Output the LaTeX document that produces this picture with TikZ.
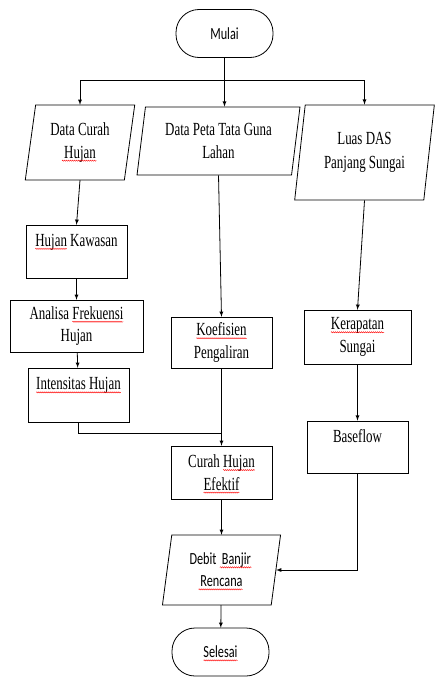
\documentclass[tikz,border=0pt]{standalone}
\usepackage{fontspec}
\setmainfont{Liberation Serif}[FakeStretch=0.7]
\newfontfamily\calib{Carlito}[FakeStretch=0.72]
\usetikzlibrary{shapes.geometric,decorations.pathmorphing}
\tikzset{>=latex}
\tikzset{
  box/.style = {draw, minimum width=101pt, minimum height=53pt, align=center, inner sep=1pt},
  io/.style = {draw, shape=trapezium, trapezium left angle=80, trapezium right angle=100,
    trapezium stretches=true, align=center, inner sep=0pt},
  term/.style = {draw, rounded corners=23pt, minimum width=97pt, minimum height=48pt,
    font=\calib\fontsize{17}{22}\selectfont},
  wave/.style = {red, line width=0.4pt, sharp corners, overlay, decorate,
    decoration={snake, amplitude=0.6pt, segment length=2pt}}
}
% red spell-check wave under a word
\newcommand{\typo}[1]{\tikz[baseline=(w.base)]{\node[draw=none,inner sep=0pt,outer sep=0pt,
  minimum size=0pt,sharp corners] (w) {#1};
  \draw[wave] ([yshift=-2.5pt]w.base west) -- ([yshift=-2.5pt]w.base east);}}

\begin{document}
\begin{tikzpicture}[x=1pt,y=-1pt,line width=0.8pt,font=\fontsize{18.5}{22.5}\selectfont]
  \useasboundingbox (0,0) rectangle (435,677);
  % start and inputs
  \node[term] (mulai) at (224.5,33.5) {Mulai};
  \node[io,minimum width=110pt,minimum height=75pt] (dch) at (80,142.5) {Data Curah\\\typo{Hujan}};
  \node[io,minimum width=163pt,minimum height=68pt] (dp) at (218.5,141) {Data Peta Tata Guna\\Lahan};
  \node[io,minimum width=141pt,minimum height=95pt] (ld) at (364.5,152.5) {Luas DAS\\[2pt]Panjang Sungai};
  % left column
  \node[box] (hk) at (76.5,251.5) {\typo{Hujan} Kawasan\\\mbox{}};
  \node[box,minimum width=133pt,minimum height=52pt] (af) at (76.5,326) {Analisa \typo{Frekuensi}\\Hujan};
  \node[box,minimum height=54pt] (ih) at (78.5,395) {\typo{Intensitas Hujan}\\\mbox{}};
  % middle column
  \node[box,minimum height=51pt] (kp) at (221.5,342.5) {\typo{Koefisien}\\Pengaliran};
  \node[box] (che) at (221.5,472.5) {Curah \typo{Hujan}\\\typo{Efektif}};
  % right column
  \node[box,minimum width=107pt,minimum height=54pt] (ks) at (357.5,337) {\typo{Kerapatan}\\Sungai};
  \node[box,minimum height=52pt] (bf) at (357.5,447) {Baseflow\\\mbox{}};
  % output and end
  \node[io,minimum width=119pt,minimum height=70pt,font=\calib\fontsize{17}{22}\selectfont] (db) at (221.5,570) {Debit \typo{Banjir}\\\typo{Rencana}};
  \node[term] (selesai) at (220.5,652) {\typo{Selesai}};

  \coordinate (fork) at (224.5,80);
  \coordinate (join) at (221.5,433);
  \draw[->] (mulai.south) -- (mulai.south |- dp.north);
  \draw[->] (fork) -| (dch.north);
  \draw[->] (fork) -| (ld.north);
  \draw[->] (dch.south) -- (hk.north);
  \draw[->] (hk) -- (af);
  \draw[->] (af) -- (ih);
  \draw (ih.south) |- (join);
  \draw[->] (dp.south) -- (kp.north);
  \draw[->] (kp) -- (che);
  \draw[->] (ld.south) -- (ks.north);
  \draw[->] (ks) -- (bf);
  \draw[->] (bf.south) |- (db.east);
  \draw[->] (che) -- (db);
  \draw[->] (db) -- (selesai);
\end{tikzpicture}
\end{document}
